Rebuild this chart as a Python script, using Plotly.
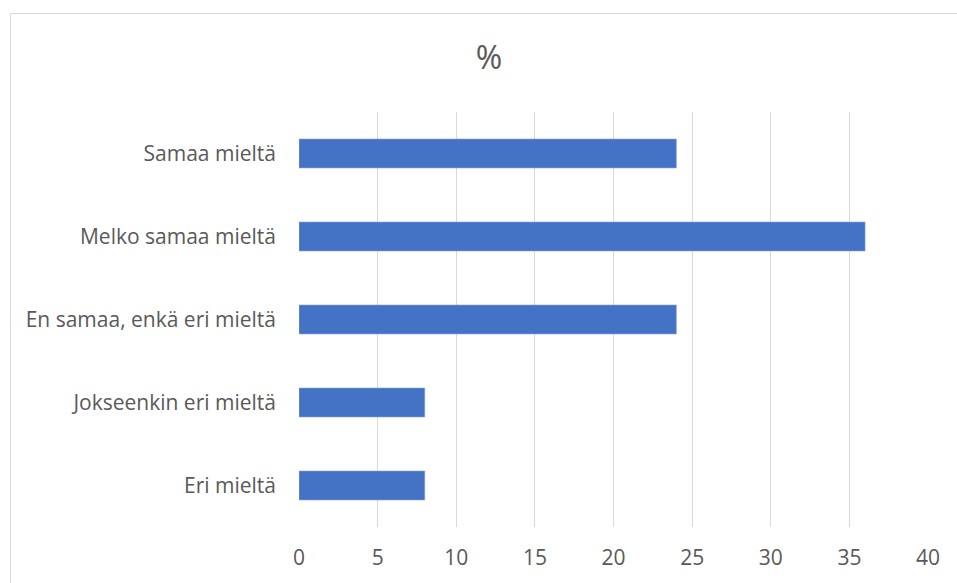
import plotly.graph_objects as go

categories = ["Samaa mieltä", "Melko samaa mieltä", "En samaa, enkä eri mieltä",
              "Jokseenkin eri mieltä", "Eri mieltä"]
values = [24, 36, 24, 8, 8]
x_ticks = [0, 5, 10, 15, 20, 25, 30, 35, 40]

W, H = 957, 583
L, R, T, B = 299, 29, 112, 56
pw, ph = W - L - R, H - T - B

fig = go.Figure(go.Bar(
    y=categories, x=values, orientation="h",
    marker=dict(color="#4472C4", line=dict(color="#8FAADC", width=0.6)),
    width=0.35,
))

def px_to_paper_x(px):
    return (px - L) / pw

def px_to_paper_y(py):
    return (H - B - py) / ph

fig.add_shape(type="rect", xref="paper", yref="paper",
              x0=px_to_paper_x(10.5), x1=px_to_paper_x(1200),
              y0=px_to_paper_y(900), y1=px_to_paper_y(13.5),
              line=dict(color="#D9D9D9", width=1), fillcolor="rgba(0,0,0,0)", layer="below")

fig.update_layout(
    width=W, height=H,
    margin=dict(l=L, r=R, t=T, b=B),
    paper_bgcolor="white", plot_bgcolor="white",
    font=dict(family="Open Sans, sans-serif", color="#595959", size=21),
    title=dict(text="%", x=(489) / W, xanchor="center", y=1 - 58 / H, yanchor="middle",
               font=dict(size=32, color="#595959")),
    showlegend=False,
    xaxis=dict(range=[0, 40], tickvals=x_ticks, showgrid=True, gridcolor="#D9D9D9",
               gridwidth=1, zeroline=False, showline=False, ticks="",
               ticklabelstandoff=16, tickfont=dict(size=21, color="#595959")),
    yaxis=dict(categoryorder="array", categoryarray=categories[::-1],
               showgrid=False, zeroline=False, showline=False, ticks="",
               ticklabelstandoff=22, tickfont=dict(size=21, color="#595959")),
)

fig.write_html("out.html")
